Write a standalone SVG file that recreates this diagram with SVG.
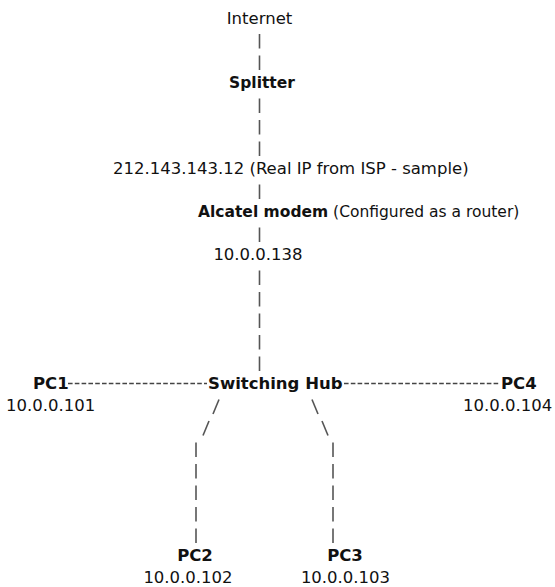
<svg xmlns="http://www.w3.org/2000/svg" width="555" height="587" viewBox="0 0 555 587">
  <style>
    text { font-family: "DejaVu Sans", Verdana, sans-serif; font-size: 16.5px; fill: #111; }
    .b { font-weight: bold; }
    .sm { font-size: 15.5px; }
    .pipe { stroke: #555; stroke-width: 1.6; fill: none; }
    .dash { stroke: #444; stroke-width: 1.7; fill: none; stroke-dasharray: 4.6 2.2; }
  </style>
  <rect width="555" height="587" fill="#fff"/>

  <!-- connectors: ASCII-style pipes, slashes and dashed runs (line pitch 21.5px) -->
  <g id="connectors">
    <!-- Internet to Splitter -->
    <line class="pipe" x1="259.5" y1="34" x2="259.5" y2="48.5"/>
    <line class="pipe" x1="259.5" y1="55.5" x2="259.5" y2="70"/>
    <!-- Splitter to public IP -->
    <line class="pipe" x1="259.5" y1="98.5" x2="259.5" y2="113"/>
    <line class="pipe" x1="259.5" y1="120" x2="259.5" y2="134.5"/>
    <line class="pipe" x1="259.5" y1="141.5" x2="259.5" y2="156"/>
    <!-- public IP to modem -->
    <line class="pipe" x1="259.5" y1="184.5" x2="259.5" y2="199"/>
    <!-- modem to LAN IP -->
    <line class="pipe" x1="259.5" y1="227.5" x2="259.5" y2="242"/>
    <!-- LAN IP to switching hub -->
    <line class="pipe" x1="259.5" y1="270.5" x2="259.5" y2="285"/>
    <line class="pipe" x1="259.5" y1="292" x2="259.5" y2="306.5"/>
    <line class="pipe" x1="259.5" y1="313.5" x2="259.5" y2="328"/>
    <line class="pipe" x1="259.5" y1="335" x2="259.5" y2="349.5"/>
    <line class="pipe" x1="259.5" y1="356.5" x2="259.5" y2="371"/>
    <!-- hub to PC1 and PC4 -->
    <line class="dash" x1="68" y1="383.5" x2="207" y2="383.5"/>
    <line class="dash" x1="344" y1="383.5" x2="500" y2="383.5"/>
    <!-- hub to PC2 -->
    <line class="pipe" x1="219" y1="399.5" x2="213" y2="414"/>
    <line class="pipe" x1="209" y1="421" x2="203" y2="435.5"/>
    <line class="pipe" x1="196" y1="442.5" x2="196" y2="457"/>
    <line class="pipe" x1="196" y1="464" x2="196" y2="478.5"/>
    <line class="pipe" x1="196" y1="485.5" x2="196" y2="500"/>
    <line class="pipe" x1="196" y1="507" x2="196" y2="521.5"/>
    <line class="pipe" x1="196" y1="528.5" x2="196" y2="543"/>
    <!-- hub to PC3 -->
    <line class="pipe" x1="312" y1="399.5" x2="318" y2="414"/>
    <line class="pipe" x1="322" y1="421" x2="328" y2="435.5"/>
    <line class="pipe" x1="333" y1="442.5" x2="333" y2="457"/>
    <line class="pipe" x1="333" y1="464" x2="333" y2="478.5"/>
    <line class="pipe" x1="333" y1="485.5" x2="333" y2="500"/>
    <line class="pipe" x1="333" y1="507" x2="333" y2="521.5"/>
    <line class="pipe" x1="333" y1="528.5" x2="333" y2="543"/>
  </g>

  <g id="internet"><text x="259.5" y="23.5" text-anchor="middle">Internet</text></g>
  <g id="splitter"><text class="b sm" x="262" y="88" text-anchor="middle">Splitter</text></g>
  <g id="public-ip"><text x="113" y="174">212.143.143.12 (Real IP from ISP - sample)</text></g>
  <g id="modem"><text class="sm" x="198" y="217"><tspan class="b">Alcatel modem</tspan> (Configured as a router)</text></g>
  <g id="lan-ip"><text x="258" y="260" text-anchor="middle">10.0.0.138</text></g>
  <g id="hub"><text class="b" x="208" y="389">Switching Hub</text></g>
  <g id="pc1">
    <text class="b" x="33" y="389">PC1</text>
    <text x="6" y="410.5">10.0.0.101</text>
  </g>
  <g id="pc4">
    <text class="b" x="501" y="389">PC4</text>
    <text x="463" y="410.5">10.0.0.104</text>
  </g>
  <g id="pc2">
    <text class="b" x="195" y="561" text-anchor="middle">PC2</text>
    <text x="188" y="582.5" text-anchor="middle">10.0.0.102</text>
  </g>
  <g id="pc3">
    <text class="b" x="345" y="561" text-anchor="middle">PC3</text>
    <text x="345.5" y="582.5" text-anchor="middle">10.0.0.103</text>
  </g>
</svg>
